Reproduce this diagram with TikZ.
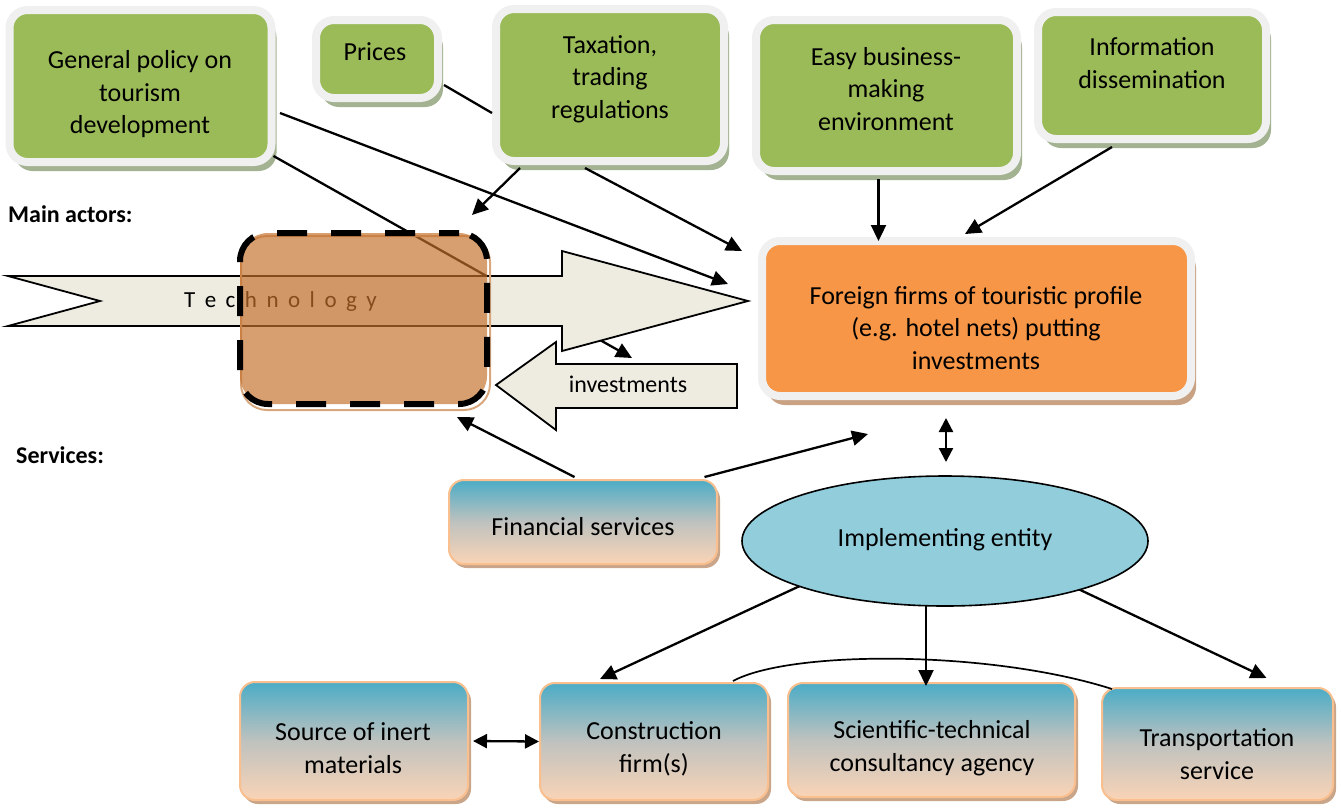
\documentclass[tikz,border=0pt]{standalone}
\usepackage{fontspec}
\setmainfont{Carlito}
\usetikzlibrary{arrows.meta,shapes.geometric,shadows,calc}
\definecolor{gr}{HTML}{9BBB59}
\definecolor{halo}{HTML}{F0F0F0}
\definecolor{grsh}{HTML}{A3B291}
\definecolor{org}{HTML}{F79646}
\definecolor{orsh}{HTML}{C9A283}
\definecolor{btop}{HTML}{4BACC6}
\definecolor{bmid}{HTML}{BFC2BF}
\definecolor{bbot}{HTML}{FAD4B6}
\definecolor{bbord}{HTML}{F9BF8F}
\definecolor{bsh}{HTML}{C9A58A}
\definecolor{arrf}{HTML}{EEECE1}
\definecolor{brn}{HTML}{C4702C}
\definecolor{tanb}{HTML}{D9A77C}
\definecolor{ellc}{HTML}{92CDDC}
\begin{document}
\begin{tikzpicture}[x=1pt,y=-1pt,
  txt/.style={font=\fontsize{26}{32.5}\selectfont, align=center, inner sep=0pt},
  gbox/.style={rectangle, rounded corners=18pt, fill=gr, draw=halo, line width=8pt, inner sep=0pt,
    general shadow={shadow xshift=5pt, shadow yshift=-9pt, fill=grsh}},
  obox/.style={rectangle, rounded corners=18pt, fill=org, draw=halo, line width=8pt, inner sep=0pt,
    general shadow={shadow xshift=5pt, shadow yshift=-9pt, fill=orsh}},
  bbox/.style={rectangle, rounded corners=15pt, top color=btop, bottom color=bbot, middle color=bmid,
    draw=bbord, line width=2pt, inner sep=0pt,
    general shadow={shadow xshift=3pt, shadow yshift=-4pt, fill=bsh}},
  conn/.style={line width=2.3pt, draw=black},
  arr/.style={conn, -{Triangle[length=16pt,width=15pt]}},
  darr/.style={conn, {Triangle[length=14pt,width=14pt]}-{Triangle[length=14pt,width=14pt]}},
  lbl/.style={font=\fontsize{24}{28}\selectfont\bfseries, inner sep=0pt, anchor=west}
]
\useasboundingbox (0,0) rectangle (1341,807);

% green boxes
\node[gbox, minimum width=262, minimum height=152] (gp) at (140.5,86) {};
\node[gbox, minimum width=122, minimum height=78] (pr) at (377,59) {};
\node[gbox, minimum width=228, minimum height=152] (tax) at (610,85) {};
\node[gbox, minimum width=261, minimum height=151] (ez) at (886.5,95.5) {};
\node[gbox, minimum width=228, minimum height=127] (inf) at (1152,75.5) {};
% orange box
\node[obox, minimum width=429, minimum height=155] (fo) at (976.5,318.5) {};
% blue boxes
\node[bbox, minimum width=268, minimum height=84] (fs) at (583,522) {};
\node[bbox, minimum width=228, minimum height=118] (so) at (354,741) {};
\node[bbox, minimum width=228, minimum height=117] (cf) at (654,741.5) {};
\node[bbox, minimum width=287, minimum height=114] (sci) at (931.5,740) {};
\node[bbox, minimum width=231, minimum height=112] (tr) at (1217.5,744) {};
% ellipse position (drawn later, over its connectors)
\coordinate (elc) at (945,541);

% texts
\node[txt] (gpt) at (140,94.5) {General policy on\\tourism\\development};
\node[txt] (prt) at (375,52) {Prices};
\node[txt] (taxt) at (610,79) {Taxation,\\trading\\regulations};
\node[txt] (ezt) at (886,89) {Easy business-\\making\\environment};
\node[txt] (inft) at (1152,63) {Information\\dissemination};
\node[txt] (fot) at (976,328) {Foreign firms of touristic profile\\(e.g. hotel nets) putting\\investments};
\node[txt] (fst) at (583,527) {Financial services};
\node[txt] (sot) at (353,748) {Source of inert\\materials};
\node[txt] (cft) at (654,749) {Construction\\firm(s)};
\node[txt] (scit) at (932,748) {Scientific-technical\\consultancy agency};
\node[txt] (trt) at (1217,754) {Transportation\\service};

% connectors
\coordinate (t1) at (632,358);
\draw[arr] ($(gp.east)+(4.5,27)$) -- ($(fo.west)+(-30,-34.5)$);
\draw[arr] ($(gp.south east)+(-2,-10)$) -- (t1);
\draw[conn] ($(pr.east)+(2,26)$) -- ($(tax.west)+(0,28)$);
\draw[arr] ($(tax.south)+(-90,3)$) -- (472,215) coordinate (t2);
\draw[arr] ($(tax.south)+(-25,3)$) -- ($(fo.north west)+(-16,14)$);
\draw[arr] ($(ez.south)+(-8,4)$) -- ($(fo.north)+(-98,4)$);
\draw[arr] ($(inf.south)+(-40,4)$) -- ($(fo.north)+(-11.5,-3)$);
\draw[darr] ($(fo.south)+(-30.5,18)$) -- ($(elc)+(1,-79)$);
\draw[arr] ($(fs.north)+(-8.5,-2)$) -- (457,417) coordinate (t3);
\draw[arr] ($(fs.north)+(121.5,-2)$) -- ($(fo.south)+(-108.5,34)$);
\draw[arr] ($(elc)+(-55,3)$) -- ($(cf.north)+(-54,-3)$);
\draw[arr] ($(elc)+(-19,0)$) -- ($(sci.north)+(-5.5,4)$);
\draw[arr] ($(elc)+(55,11)$) -- ($(tr.north)+(49,-9)$);
\draw[conn, line width=1.7pt] ($(cf.north east)+(-36,-1)$) .. controls (790,650) and (990,650) .. ($(tr.north west)+(11,2)$);
\draw[darr] ($(so.east)+(4,0)$) -- (cf.west);

% ellipse on top of its connectors
\node[ellipse, fill=ellc, draw=black, line width=1.6pt, minimum width=406, minimum height=130, inner sep=0pt] (el) at (elc) {};
\node[txt] (elt) at (945,540) {Implementing entity};

% technology arrow
\draw[fill=arrf, draw=black, line width=1.8pt, line join=miter]
  (8,276) -- (562,276) -- (562,251) -- (748,301) -- (562,351) -- (562,326) -- (8,326) -- (100,301) -- cycle;
\node[inner sep=0pt, anchor=base, font=\fontsize{23}{26}\selectfont] (tech) at (280.5,307)
  {T\kern9.5pt e\kern9.5pt c\kern9.5pt h\kern9.5pt n\kern9.5pt o\kern9.5pt l\kern9.5pt o\kern9.5pt g\kern9.5pt y};

% brown box
\draw[tanb, line width=2pt, rounded corners=26pt] (241,236) rectangle (490,410);
\node[rectangle, rounded corners=28pt, fill=brn, fill opacity=0.68, draw=black, line width=6pt,
  dash pattern=on 30pt off 24pt, dash phase=10pt, minimum width=247, minimum height=171, inner sep=0pt] (bb) at (363.5,318.5) {};

% investments arrow
\draw[fill=arrf, draw=black, line width=1.8pt, line join=miter]
  (496,385) -- (556,342) -- (556,364) -- (737,364) -- (737,408) -- (556,408) -- (556,430) -- cycle;
\node[inner sep=0pt, font=\fontsize{24}{28}\selectfont] (inv) at (628,384) {investments};

% side labels
\node[lbl] (ma) at (8,214) {Main actors:};
\node[lbl] (sv) at (16,455) {Services:};
\end{tikzpicture}
\end{document}
